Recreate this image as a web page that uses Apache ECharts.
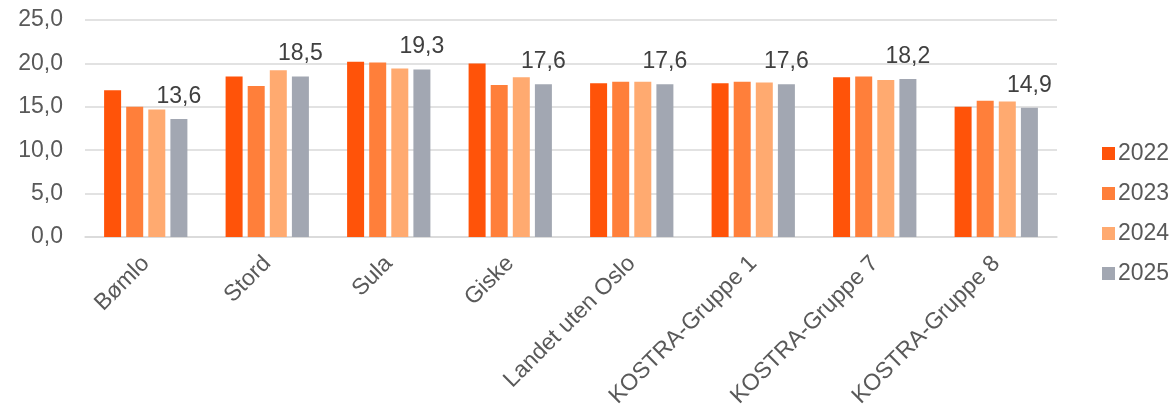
<!DOCTYPE html>
<html>
<head>
<meta charset="utf-8">
<script src="https://cdn.jsdelivr.net/npm/echarts@6/dist/echarts.min.js"></script>
<style>
  html, body { margin: 0; padding: 0; background: #fff; }
  #chart { width: 1170px; height: 412px; }
</style>
</head>
<body>
<div id="chart"></div>
<script>
const categories = ['Bømlo', 'Stord', 'Sula', 'Giske', 'Landet uten Oslo', 'KOSTRA-Gruppe 1', 'KOSTRA-Gruppe 7', 'KOSTRA-Gruppe 8'];
const years = ['2022', '2023', '2024', '2025'];
const values2022 = [16.9, 18.5, 20.2, 20.0, 17.7, 17.7, 18.4, 15.0];
const values2023 = [15.0, 17.4, 20.1, 17.5, 17.9, 17.9, 18.5, 15.7];
const values2024 = [14.7, 19.2, 19.4, 18.4, 17.9, 17.8, 18.1, 15.6];
const values2025 = [13.6, 18.5, 19.3, 17.6, 17.6, 17.6, 18.2, 14.9];
const yTicks = [0, 5, 10, 15, 20, 25];

const colors = ['#FF5309', '#FF7F3A', '#FFAA70', '#A2A7B2'];
const allValues = [values2022, values2023, values2024, values2025];
const FONT = '"Liberation Sans", Arial, sans-serif';
const fmt = v => v.toFixed(1).replace('.', ',');

const series = years.map((y, i) => ({
  name: y,
  type: 'bar',
  data: allValues[i],
  barWidth: 17,
  barGap: '30%',
  itemStyle: { color: colors[i] },
  label: i === 3 ? {
    show: true,
    position: 'top',
    distance: 11,
    color: '#404040',
    fontFamily: FONT,
    fontSize: 23,
    formatter: p => fmt(p.value)
  } : { show: false }
}));

const chart = echarts.init(document.getElementById('chart'), null, { renderer: 'canvas' });
chart.setOption({
  animation: false,
  backgroundColor: '#ffffff',
  textStyle: { fontFamily: FONT },
  grid: { left: 85, right: 113, top: 20, bottom: 175, containLabel: false },
  legend: {
    orient: 'vertical',
    left: 1097,
    top: 137,
    itemWidth: 13,
    itemHeight: 13,
    itemGap: 17,
    icon: 'rect',
    data: years,
    textStyle: { color: '#595959', fontSize: 23, fontFamily: FONT, lineHeight: 23, padding: [0, 0, 0, -2] }
  },
  xAxis: {
    type: 'category',
    data: categories,
    axisLine: { show: true, lineStyle: { color: '#D9D9D9', width: 1.5 } },
    axisTick: { show: false },
    axisLabel: {
      interval: 0,
      rotate: 45,
      margin: 23,
      color: '#595959',
      fontSize: 23,
      fontFamily: FONT
    }
  },
  yAxis: {
    type: 'value',
    min: yTicks[0],
    max: yTicks[yTicks.length - 1],
    interval: 5,
    axisLine: { show: false },
    axisTick: { show: false },
    splitLine: { lineStyle: { color: '#D9D9D9', width: 1.5 } },
    axisLabel: {
      margin: 22,
      color: '#595959',
      fontSize: 23,
      fontFamily: FONT,
      formatter: v => fmt(v)
    }
  },
  series: series
});
</script>
</body>
</html>
